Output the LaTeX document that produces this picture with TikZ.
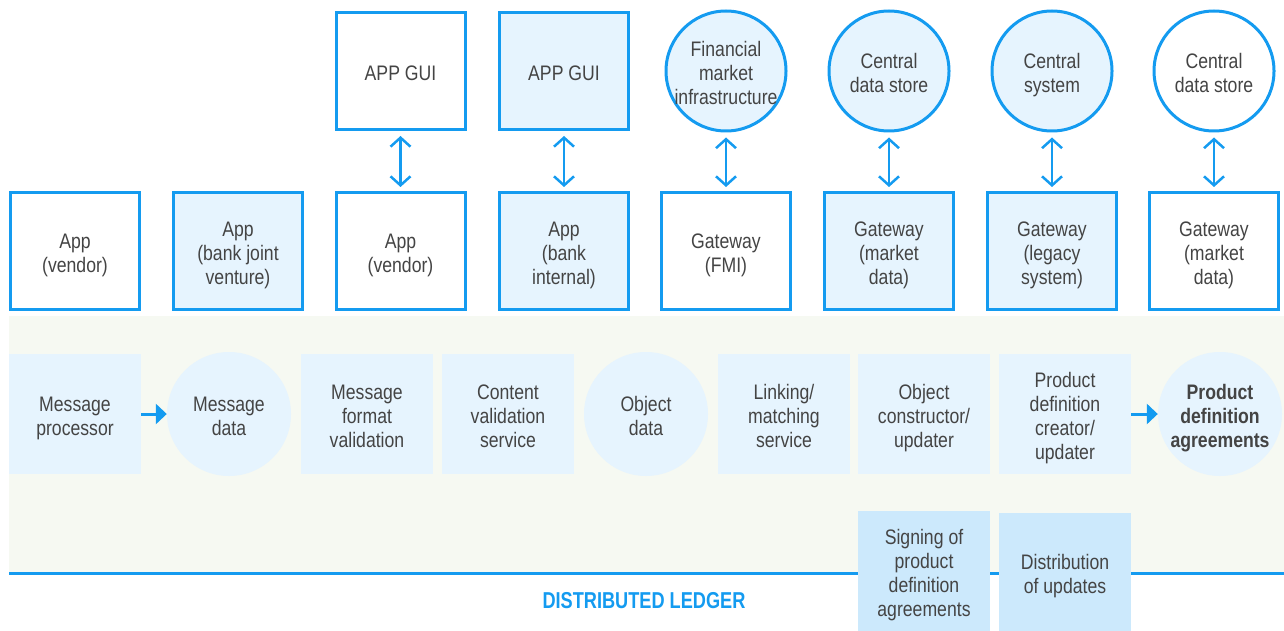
\documentclass[tikz,border=0pt]{standalone}
\usepackage{fontspec}
\setmainfont{Liberation Sans}[FakeStretch=0.84]
\newfontfamily\ledgerfont{Liberation Sans}[FakeStretch=0.79]
\usetikzlibrary{arrows.meta}

\definecolor{edgeblue}{RGB}{20,155,240}
\definecolor{paleblue}{RGB}{230,244,254}
\definecolor{midblue}{RGB}{204,233,252}
\definecolor{bandtint}{RGB}{246,249,242}
\definecolor{inkgray}{RGB}{68,68,68}

% fixed first-line height and last-line depth so every label sits alike
\newcommand\lnhi{\rule{0pt}{23.5pt}}
\newcommand\lnlo{\rule[-4.5pt]{0pt}{4.5pt}}

\tikzset{
  lbl/.style={align=center, text=inkgray, font=\fontsize{21}{24}\selectfont, inner sep=0pt},
  outlinebox/.style={lbl, draw=edgeblue, line width=3pt, rectangle,
    minimum width=129pt, minimum height=117pt},
  whitebox/.style={outlinebox, fill=white},
  bluebox/.style={outlinebox, fill=paleblue},
  outlinecircle/.style={lbl, draw=edgeblue, line width=3pt, circle, minimum size=120pt, inner sep=-8pt},
  flatbox/.style={lbl, rectangle, fill=paleblue, minimum width=132pt, minimum height=120pt},
  darkbox/.style={lbl, rectangle, fill=midblue, minimum width=132pt, minimum height=120pt},
  flatcircle/.style={lbl, circle, fill=paleblue, minimum size=124pt, inner sep=-8pt},
  twoway/.style={draw=edgeblue, line width=2.5pt,
    {Straight Barb[length=9pt,width=20pt,line width=2.5pt]}-{Straight Barb[length=9pt,width=20pt,line width=2.5pt]},
    shorten <=5pt, shorten >=4pt},
  oneway/.style={draw=edgeblue, line width=3pt,
    -{Triangle[length=11pt,width=20pt]}}
}

\begin{document}
\begin{tikzpicture}[x=1pt,y=-1pt]
  \useasboundingbox (0,0) rectangle (1284,631);

  % ledger band and its base line
  \fill[bandtint] (9,316) rectangle (1284,573);
  \draw[edgeblue, line width=3pt] (9,573) -- (1284,573);

  % upper tier: front ends and external systems
  \node[whitebox] (gui1) at (400.5,71) {\lnhi APP GUI\lnlo};
  \node[bluebox]  (gui2) at (564,71) {\lnhi APP GUI\lnlo};
  \node[outlinecircle, fill=paleblue] (fmi)  at (726,71) {\lnhi Financial\\market\\infrastructure\lnlo};
  \node[outlinecircle, fill=paleblue] (cds1) at (889,71) {\lnhi Central\\data store\lnlo};
  \node[outlinecircle, fill=paleblue] (csys) at (1052,71) {\lnhi Central\\system\lnlo};
  \node[outlinecircle, fill=white]    (cds2) at (1214,71) {\lnhi Central\\data store\lnlo};

  % participant nodes
  \node[whitebox] (p1) at (75,251)   {\lnhi App\\(vendor)\lnlo};
  \node[bluebox]  (p2) at (238,251)  {\lnhi App\\(bank joint\\venture)\lnlo};
  \node[whitebox] (p3) at (400.5,251){\lnhi App\\(vendor)\lnlo};
  \node[bluebox]  (p4) at (564,251)  {\lnhi App\\(bank\\internal)\lnlo};
  \node[whitebox] (p5) at (726,251)  {\lnhi Gateway\\(FMI)\lnlo};
  \node[bluebox]  (p6) at (889,251)  {\lnhi Gateway\\(market\\data)\lnlo};
  \node[bluebox]  (p7) at (1052,251) {\lnhi Gateway\\(legacy\\system)\lnlo};
  \node[whitebox] (p8) at (1214,251) {\lnhi Gateway\\(market\\data)\lnlo};

  \draw[twoway] (gui1.south) -- (p3.north);
  \draw[twoway] (gui2.south) -- (p4.north);
  \draw[twoway] (fmi.south)  -- (p5.north);
  \draw[twoway] (cds1.south) -- (p6.north);
  \draw[twoway] (csys.south) -- (p7.north);
  \draw[twoway] (cds2.south) -- (p8.north);

  % ledger processing chain
  \node[flatbox]    (mp)  at (75,414)   {\lnhi Message\\processor\lnlo};
  \node[flatcircle] (md)  at (229,414)  {\lnhi Message\\data\lnlo};
  \node[flatbox]    (mfv) at (367,414)  {\lnhi Message\\format\\validation\lnlo};
  \node[flatbox]    (cvs) at (508,414)  {\lnhi Content\\validation\\service\lnlo};
  \node[flatcircle] (od)  at (646,414)  {\lnhi Object\\data\lnlo};
  \node[flatbox]    (lms) at (784,414)  {\lnhi Linking/\\matching\\service\lnlo};
  \node[flatbox]    (ocu) at (924,414)  {\lnhi Object\\constructor/\\updater\lnlo};
  \node[flatbox]    (pdc) at (1065,414) {\lnhi Product\\definition\\creator/\\updater\lnlo};
  \node[flatcircle, font=\fontsize{21}{24}\selectfont\bfseries] (pda) at (1220,414) {\lnhi Product\\definition\\agreements\lnlo};

  \draw[oneway] (mp.east) -- (md.west);
  \draw[oneway] (pdc.east) -- (pda.west);

  % services reaching below the ledger line
  \node[darkbox, minimum height=120pt] (sign) at (924,571) {\lnhi Signing of\\product\\definition\\agreements\lnlo};
  \node[darkbox, minimum height=118pt] (dist) at (1065,572) {\lnhi Distribution\\of updates\lnlo};

  \node[inner sep=0pt, text=edgeblue, font=\ledgerfont\fontsize{23}{26}\selectfont\bfseries] (ledger) at (644,601) {DISTRIBUTED LEDGER};
\end{tikzpicture}
\end{document}
